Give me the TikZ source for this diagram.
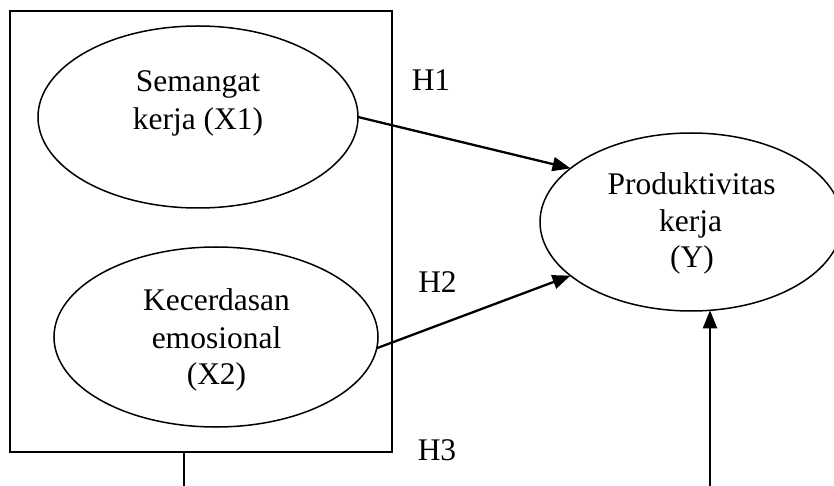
\documentclass[tikz,border=0pt]{standalone}
\usepackage{fontspec}
\setmainfont{Liberation Serif}
\usetikzlibrary{shapes.geometric,arrows.meta}
\tikzset{
  shp/.style={draw=black, line width=1.5bp, inner sep=0pt, outer sep=0pt},
  ell/.style={shp, ellipse},
  lbl/.style={inner sep=0pt, anchor=base, font=\fontsize{31.5bp}{37bp}\selectfont},
  arr/.style={line width=2.3bp, -{Triangle[length=18bp,width=14bp]}},
  ln/.style={line width=1.5bp}
}
\begin{document}
\begin{tikzpicture}[x=1bp,y=-1bp]
\useasboundingbox (0,0) rectangle (834,486);
% box
\node[shp, minimum width=382bp, minimum height=441bp] (box) at (201,231.5) {};
% ellipses
\node[ell, minimum width=320bp, minimum height=182bp] (e1) at (198,117) {};
\node[ell, minimum width=324bp, minimum height=180bp] (e2) at (216,337) {};
\node[ell, minimum width=302bp, minimum height=178bp] (ey) at (691,222) {};
% texts
\node[lbl] (t1a) at (198,92) {Semangat};
\node[lbl] (t1b) at (198,130) {kerja (X1)};
\node[lbl] (t2a) at (216.5,311) {Kecerdasan};
\node[lbl] (t2b) at (216.5,348) {emosional};
\node[lbl] (t2c) at (216.5,384) {(X2)};
\node[lbl] (tya) at (691.5,195) {Produktivitas};
\node[lbl] (tyb) at (690.5,232) {kerja};
\node[lbl] (tyc) at (692,268) {(Y)};
\node[lbl] (h1) at (431,91) {H1};
\node[lbl] (h2) at (437.5,293) {H2};
\node[lbl] (h3) at (437,460) {H3};
% connectors
\draw[arr] (e1.east) -- (ey.156.5);
\draw[arr] (e2.-4) -- (ey.204);
\coordinate (b1) at (184,486);
\coordinate (b2) at (710,486);
\draw[ln] (b1 |- box.south) -- (b1);
\draw[arr] (b2) -- (710,310.3);
\end{tikzpicture}
\end{document}
